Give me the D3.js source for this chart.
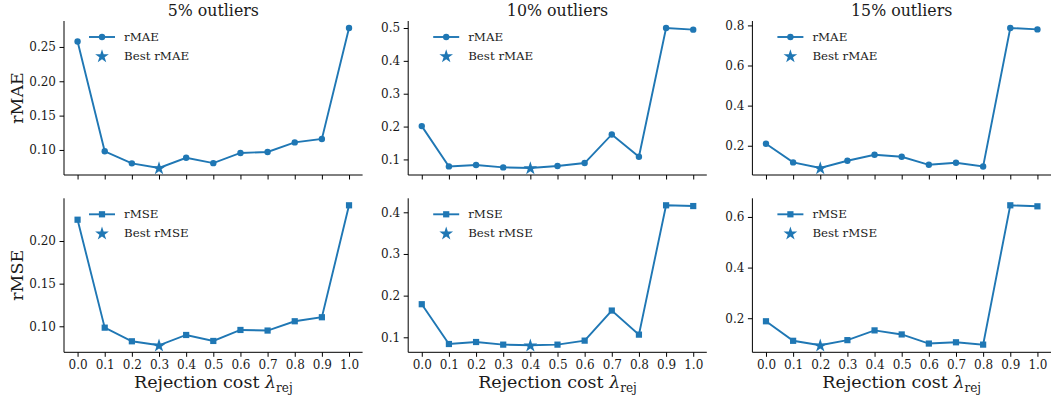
<!DOCTYPE html>
<html><head><meta charset="utf-8">
<script src="https://cdn.jsdelivr.net/npm/d3@7"></script>
<style>body{margin:0;background:#fff}svg{display:block}text{font-family:"DejaVu Serif",serif;fill:#1a1a1a}</style>
</head><body><svg id="c" width="1051" height="398"></svg>
<script>
const lambdas = [0.0,0.1,0.2,0.3,0.4,0.5,0.6,0.7,0.8,0.9,1.0];
const titles = ["5% outliers","10% outliers","15% outliers"];
const rmae5  = [0.258,0.098,0.0805,0.0737,0.0886,0.0808,0.0956,0.097,0.111,0.116,0.2776];
const rmae10 = [0.2014,0.0787,0.083,0.0757,0.0739,0.080,0.089,0.176,0.108,0.500,0.495];
const rmae15 = [0.210,0.117,0.089,0.125,0.155,0.145,0.105,0.115,0.0968,0.787,0.780];
const rmse5  = [0.225,0.0984,0.0824,0.0777,0.0898,0.0828,0.0957,0.095,0.1059,0.1106,0.2419];
const rmse10 = [0.1794,0.0839,0.0887,0.0824,0.0808,0.0824,0.092,0.1642,0.1064,0.4168,0.415];
const rmse15 = [0.188,0.1109,0.0931,0.1135,0.152,0.136,0.100,0.105,0.0958,0.646,0.642];
const yTicks = [[0.10,0.15,0.20,0.25],[0.1,0.2,0.3,0.4,0.5],[0.2,0.4,0.6,0.8],
                [0.10,0.15,0.20],[0.1,0.2,0.3,0.4],[0.2,0.4,0.6]];
const yFmt = [".2f",".1f",".1f",".2f",".1f",".1f"];
const rows = [{name:"rMAE", data:[rmae5,rmae10,rmae15], marker:"circle"},
              {name:"rMSE", data:[rmse5,rmse10,rmse15], marker:"square"}];
const color = "#1f77b4";
const svg = d3.select("#c");
const lefts = [64, 408.2, 752.4], W = 298.6;
const tops = [21, 198.3], H = 154;

function drawMarker(g, type, x, y){
  if(type==="circle") g.append("circle").attr("cx",x).attr("cy",y).attr("r",3.2).attr("fill",color);
  else if(type==="square") g.append("rect").attr("x",x-3.1).attr("y",y-3.1).attr("width",6.2).attr("height",6.2).attr("fill",color);
  else g.append("path").attr("d",d3.symbol().type(d3.symbolStar).size(58)()).attr("transform",`translate(${x},${y+0.5})`).attr("fill",color);
}

rows.forEach((row,ri)=>{
  row.data.forEach((vals,ci)=>{
    const idx = ri*3+ci;
    const x0=lefts[ci], y0=tops[ri];
    const g = svg.append("g");
    const x = d3.scaleLinear().domain([-0.05,1.05]).range([x0,x0+W]);
    const mn=d3.min(vals), mx=d3.max(vals), m=(mx-mn)*0.05;
    const y = d3.scaleLinear().domain([mn-m,mx+m]).range([y0+H,y0]);
    const xa = d3.axisBottom(x).tickValues(lambdas).tickSize(4.5).tickPadding(4)
      .tickFormat(ri===1? d3.format(".1f") : ()=>"");
    const gx = g.append("g").attr("transform",`translate(0,${y0+H})`).call(xa);
    gx.select(".domain").attr("d",`M${x0},0H${x0+W}`);
    const ya = d3.axisLeft(y).tickValues(yTicks[idx]).tickSize(4.5).tickPadding(3.5).tickFormat(d3.format(yFmt[idx]));
    const gy = g.append("g").attr("transform",`translate(${x0},0)`).call(ya);
    gy.select(".domain").attr("d",`M0,${y0}V${y0+H}`);
    [gx,gy].forEach(a=>{a.selectAll("text").style("font-family","DejaVu Serif").style("font-size","12px").attr("fill","#1a1a1a");
      a.selectAll("line,.domain").attr("stroke","#000").attr("stroke-width",1);});
    const line = d3.line().x((d,i)=>x(lambdas[i])).y(d=>y(d));
    g.append("path").datum(vals).attr("d",line).attr("fill","none").attr("stroke",color).attr("stroke-width",1.9);
    const best = d3.minIndex(vals);
    vals.forEach((v,i)=>{ if(i!==best) drawMarker(g,row.marker,x(lambdas[i]),y(v)); });
    drawMarker(g,"star",x(lambdas[best]),y(vals[best]));
    const lx=x0+25, ly=y0+16;
    g.append("line").attr("x1",lx).attr("x2",lx+26).attr("y1",ly).attr("y2",ly).attr("stroke",color).attr("stroke-width",1.9);
    drawMarker(g,row.marker,lx+13,ly);
    g.append("text").attr("x",lx+35).attr("y",ly+4).style("font-size","11.8px").text(row.name);
    drawMarker(g,"star",lx+13,ly+19);
    g.append("text").attr("x",lx+35).attr("y",ly+23).style("font-size","11.8px").text("Best "+row.name);
    if(ri===0){
      g.append("text").attr("x",x0+W/2).attr("y",16).attr("text-anchor","middle").style("font-size","15.8px").text(titles[ci]);
    } else {
      const t = g.append("text").attr("x",x0+W/2).attr("y",388).attr("text-anchor","middle").style("font-size","17.5px");
      t.append("tspan").text("Rejection cost ");
      t.append("tspan").style("font-style","italic").text("λ");
      t.append("tspan").attr("dy",3.5).style("font-size","12px").text("rej");
    }
    if(ci===0){
      svg.append("text").attr("transform",`translate(23,${y0+H/2}) rotate(-90)`).attr("text-anchor","middle")
        .style("font-size","17.5px").text(row.name);
    }
  });
});
</script></body></html>
